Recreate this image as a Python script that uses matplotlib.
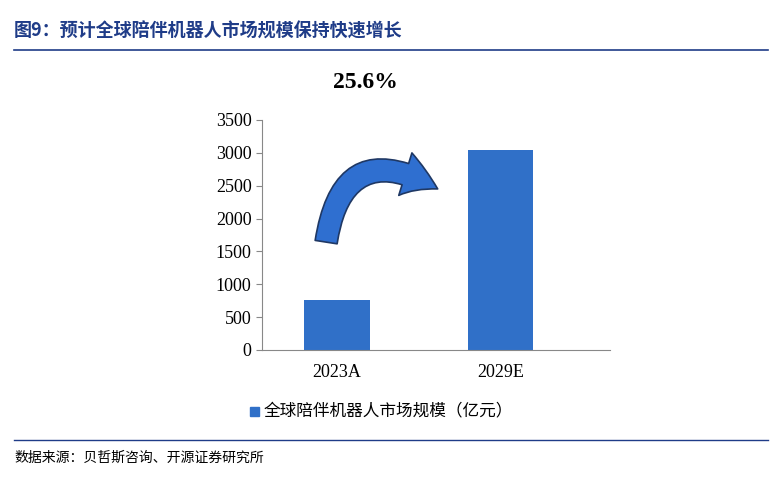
import matplotlib.pyplot as plt
from matplotlib.patches import FancyArrowPatch

plt.rcParams['font.family'] = ['Noto Sans CJK SC', 'DejaVu Sans']

categories = ['2023A', '2029E']
values = [760, 3050]
series_name = '全球陪伴机器人市场规模（亿元）'
cagr = '25.6%'
title = '图9：预计全球陪伴机器人市场规模保持快速增长'
source = '数据来源：贝哲斯咨询、开源证券研究所'

W, H = 782, 478
fig = plt.figure(figsize=(W / 100, H / 100), dpi=100)

ax = fig.add_axes([262 / W, 1 - 350 / H, 348 / W, 230 / H])
x = range(len(categories))
ax.bar(x, values, width=0.4, color='#3070C8')
ax.set_xlim(-0.46, 1.67)
ax.set_ylim(0, 3500)
ax.set_yticks(range(0, 3501, 500))
ax.set_xticks(list(x))
ax.set_xticklabels(categories)
for s in ['top', 'right']:
    ax.spines[s].set_visible(False)
for s in ['left', 'bottom']:
    ax.spines[s].set_color('#888888')
ax.tick_params(axis='y', length=4, color='#888888')
ax.tick_params(axis='x', length=0, pad=10)
for lab in ax.get_xticklabels() + ax.get_yticklabels():
    lab.set_family('Liberation Serif')
    lab.set_fontsize(13)

# curved growth arrow
arrow = FancyArrowPatch((-0.07, 1600), (0.63, 2430), connectionstyle='arc3,rad=-0.75',
                        arrowstyle='simple,head_width=2.0,head_length=1.6,tail_width=1.0',
                        mutation_scale=16, facecolor='#2F6FD0', edgecolor='#1F3864',
                        linewidth=1.2, clip_on=False)
ax.add_patch(arrow)
fig.text(365 / W, 1 - 82 / H, cagr, family='Liberation Serif', fontsize=17,
         fontweight='bold', ha='center', va='center')

# legend
fig.patches.append(plt.Rectangle((250 / W, 1 - 416 / H), 9 / W, 9 / H,
                                 color='#3070C8', transform=fig.transFigure))
fig.text(264 / W, 1 - 411 / H, series_name, fontsize=12, va='center')

# title and rules
fig.text(14 / W, 1 - 31 / H, title, fontsize=13, fontweight='bold', color='#1F3C88', va='center')
fig.add_artist(plt.Line2D([14 / W, 768 / W], [1 - 50 / H] * 2, color='#1F3C88', lw=1.2))
fig.add_artist(plt.Line2D([14 / W, 768 / W], [1 - 440 / H] * 2, color='#1F3C88', lw=1.0))
fig.text(14 / W, 1 - 458 / H, source, fontsize=10, va='center')

fig.savefig('out.png', dpi=100)
